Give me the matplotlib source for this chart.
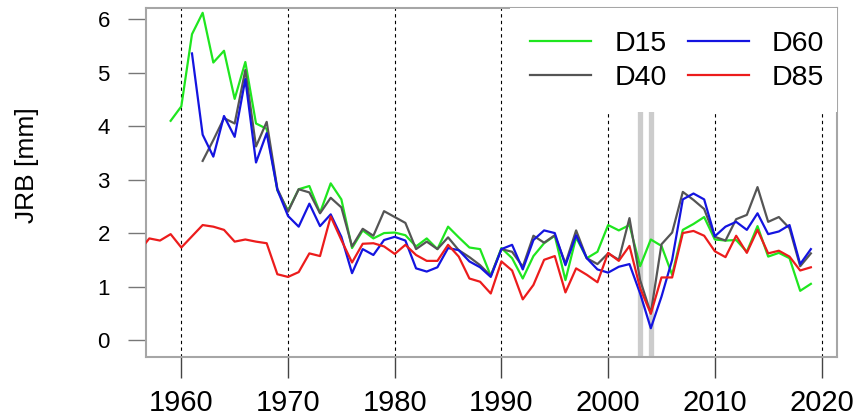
import matplotlib
matplotlib.use("Agg")
import matplotlib.pyplot as plt
from matplotlib.patches import Rectangle

plt.rcParams['font.family'] = ['Liberation Sans', 'DejaVu Sans']

# Annual JRB series (mm)
years_d15 = list(range(1959, 2020))
d15 = [4.10, 4.37, 5.72, 6.12, 5.19, 5.41, 4.51, 5.20, 4.05, 3.95,
       2.80, 2.42, 2.82, 2.88, 2.38, 2.93, 2.63, 1.72, 2.05, 1.90,
       2.00, 2.01, 1.96, 1.75, 1.90, 1.70, 2.12, 1.92, 1.73, 1.70,
       1.20, 1.72, 1.53, 1.15, 1.57, 1.81, 1.95, 1.12, 1.92, 1.53,
       1.65, 2.15, 2.05, 2.15, 1.38, 1.88, 1.76, 1.22, 2.06, 2.17,
       2.30, 1.88, 1.86, 1.87, 1.65, 2.13, 1.56, 1.63, 1.53, 0.92,
       1.05]

years_d40 = list(range(1962, 2020))
d40 = [3.35, 3.74, 4.15, 4.05, 5.05, 3.62, 4.08, 2.83, 2.40, 2.82,
       2.76, 2.37, 2.66, 2.48, 1.75, 2.08, 1.95, 2.41, 2.30, 2.19,
       1.70, 1.84, 1.70, 1.92, 1.68, 1.55, 1.40, 1.20, 1.70, 1.65,
       1.37, 1.95, 1.82, 1.96, 1.43, 2.05, 1.53, 1.42, 1.62, 1.50,
       2.28, 1.12, 0.50, 1.79, 2.01, 2.77, 2.62, 2.45, 1.93, 1.86,
       2.26, 2.34, 2.86, 2.21, 2.30, 2.09, 1.38, 1.62]

years_d60 = list(range(1961, 2020))
d60 = [5.36, 3.84, 3.43, 4.19, 3.80, 4.88, 3.32, 3.87, 2.81, 2.32,
       2.12, 2.55, 2.13, 2.35, 1.93, 1.25, 1.70, 1.59, 1.87, 1.93,
       1.86, 1.34, 1.28, 1.36, 1.72, 1.68, 1.47, 1.36, 1.18, 1.70,
       1.78, 1.32, 1.87, 2.05, 2.00, 1.40, 1.96, 1.53, 1.32, 1.26,
       1.37, 1.42, 0.87, 0.22, 0.81, 1.50, 2.63, 2.74, 2.63, 1.94,
       2.12, 2.21, 2.06, 2.37, 1.98, 2.03, 2.15, 1.42, 1.70]

years_d85 = list(range(1956, 2020))
d85 = [1.65, 1.90, 1.86, 1.98, 1.73, 1.94, 2.15, 2.12, 2.06, 1.84,
       1.88, 1.84, 1.81, 1.23, 1.18, 1.27, 1.62, 1.57, 2.31, 1.87,
       1.45, 1.80, 1.81, 1.75, 1.61, 1.78, 1.59, 1.48, 1.48, 1.78,
       1.56, 1.15, 1.09, 0.87, 1.47, 1.30, 0.76, 1.03, 1.50, 1.57,
       0.89, 1.34, 1.22, 1.08, 1.63, 1.48, 1.76, 0.97, 0.49, 1.17,
       1.17, 2.00, 2.04, 1.95, 1.66, 1.55, 1.95, 1.63, 2.06, 1.62,
       1.67, 1.56, 1.30, 1.36]

decades = [1960, 1970, 1980, 1990, 2000, 2010, 2020]
marked_years = [2003, 2004]
y_ticks = [0, 1, 2, 3, 4, 5, 6]

series = [
    ("D15", years_d15, d15, "#1fe61f"),
    ("D40", years_d40, d40, "#555555"),
    ("D60", years_d60, d60, "#1414e0"),
    ("D85", years_d85, d85, "#ec1c1c"),
]

fig = plt.figure(figsize=(8.56, 4.2), dpi=100)
ax = fig.add_axes([146 / 856, 1 - 357 / 420, (837 - 146) / 856, (357 - 8) / 420])

ax.set_xlim(1956.69, 2021.45)
ax.set_ylim(-0.318, 6.21)

for yr in decades:
    ax.axvline(yr, color="black", lw=0.8, ls=(0, (3, 3)), zorder=1.5)
for yr in marked_years:
    ax.axvline(yr, color="#cccccc", lw=3.8, zorder=1)

lines = []
for name, yrs, vals, col in series:
    ln, = ax.plot(yrs, vals, color=col, lw=1.6, label=name, zorder=4)
    lines.append(ln)

# white panel behind the legend
ax.add_patch(Rectangle((0.527, 0.702), 0.473, 0.298, transform=ax.transAxes,
                       facecolor="white", edgecolor="none", zorder=3))

ax.legend(handles=lines, ncol=2, frameon=False, loc="upper left",
          bbox_to_anchor=(0.556, 0.935), borderaxespad=0, borderpad=0,
          fontsize=20.5, handlelength=2.15, handletextpad=0.8,
          columnspacing=0.75, labelspacing=0.3)

ax.set_xticks(decades)
ax.set_yticks(y_ticks)
ax.tick_params(axis="x", length=15, width=1, color="#444444", pad=8,
               labelsize=21)
ax.tick_params(axis="y", length=13, width=1, color="#777777", pad=13,
               labelsize=16)
for s in ax.spines.values():
    s.set_color("#a6a6a6")
    s.set_linewidth(1.5)

ax.set_ylabel("JRB [mm]", fontsize=19)
ax.yaxis.set_label_coords(-0.155, 0.55)

fig.savefig("out.png", dpi=100)
